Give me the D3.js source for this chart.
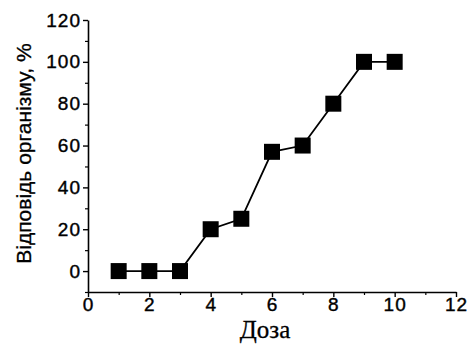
<!DOCTYPE html>
<html>
<head>
<meta charset="utf-8">
<script src="https://cdn.jsdelivr.net/npm/d3@7"></script>
<style>
  body { margin: 0; background: #fff; }
  svg { display: block; }
</style>
</head>
<body>
<svg id="chart"></svg>
<script>
// data
const doses = [1, 2, 3, 4, 5, 6, 7, 8, 9, 10];
const responses = [0, 0, 0, 20, 25, 57, 60, 80, 100, 100];
const xTicks = [0, 2, 4, 6, 8, 10, 12];
const yTicks = [0, 20, 40, 60, 80, 100, 120];
const xLabel = 'Доза';
const yLabel = 'Відповідь організму, %';

const width = 468, height = 346;
const margin = { top: 20, right: 12, bottom: 54, left: 88 };
const sans = "'Liberation Sans', Arial, sans-serif";
const serif = "'Liberation Serif', 'Times New Roman', serif";

const svg = d3.select('#chart')
  .attr('width', width)
  .attr('height', height);

const x = d3.scaleLinear()
  .domain([0, 12])
  .range([margin.left, width - margin.right]);

const y = d3.scaleLinear()
  .domain([-10, 120])
  .range([height - margin.bottom, margin.top]);

const data = doses.map((d, i) => ({ x: d, y: responses[i] }));

// minor ticks
svg.append('g')
  .attr('transform', `translate(0,${y(-10)})`)
  .call(d3.axisBottom(x).tickValues(d3.range(1, 12, 2)).tickSize(3).tickFormat(''))
  .call(g => g.select('.domain').remove())
  .selectAll('line').attr('stroke-width', 1.2);

svg.append('g')
  .attr('transform', `translate(${x(0)},0)`)
  .call(d3.axisLeft(y).tickValues(d3.range(-10, 120, 20)).tickSize(3).tickFormat(''))
  .call(g => g.select('.domain').remove())
  .selectAll('line').attr('stroke-width', 1.2);

// x axis
const xAxis = svg.append('g')
  .attr('transform', `translate(0,${y(-10)})`)
  .call(d3.axisBottom(x).tickValues(xTicks).tickSize(5).tickSizeOuter(0).tickPadding(1));
xAxis.select('.domain').attr('stroke-width', 1.6);
xAxis.selectAll('line').attr('stroke-width', 1.4);
xAxis.selectAll('text')
  .style('font-family', sans)
  .style('font-size', '19px')
  .style('letter-spacing', '1px')
  .attr('fill', '#000')
  .attr('stroke', '#000')
  .attr('stroke-width', 0.4);

// y axis
const yAxis = svg.append('g')
  .attr('transform', `translate(${x(0)},0)`)
  .call(d3.axisLeft(y).tickValues(yTicks).tickSize(5).tickSizeOuter(0).tickPadding(2));
yAxis.select('.domain').attr('stroke-width', 1.6);
yAxis.selectAll('line').attr('stroke-width', 1.4);
yAxis.selectAll('text')
  .style('font-family', sans)
  .style('font-size', '19px')
  .style('letter-spacing', '1px')
  .attr('fill', '#000')
  .attr('stroke', '#000')
  .attr('stroke-width', 0.4);

// line
const line = d3.line()
  .x(d => x(d.x))
  .y(d => y(d.y));

svg.append('path')
  .datum(data)
  .attr('fill', 'none')
  .attr('stroke', '#000')
  .attr('stroke-width', 1.8)
  .attr('d', line);

// square markers
const s = 16;
svg.selectAll('rect.pt')
  .data(data)
  .enter().append('rect')
  .attr('class', 'pt')
  .attr('x', d => x(d.x) - s / 2)
  .attr('y', d => y(d.y) - s / 2)
  .attr('width', s)
  .attr('height', s)
  .attr('fill', '#000');

// axis titles
svg.append('text')
  .attr('x', (x(0) + x(12)) / 2 - 7)
  .attr('y', 338)
  .attr('text-anchor', 'middle')
  .style('font-family', serif)
  .style('font-size', '25px')
  .attr('fill', '#000')
  .attr('stroke', '#000')
  .attr('stroke-width', 0.3)
  .text(xLabel);

svg.append('text')
  .attr('transform', `translate(31,${(40 + 267) / 2}) rotate(-90)`)
  .attr('text-anchor', 'middle')
  .style('font-family', sans)
  .style('font-size', '21px')
  .attr('fill', '#000')
  .attr('stroke', '#000')
  .attr('stroke-width', 0.3)
  .text(yLabel);
</script>
</body>
</html>
